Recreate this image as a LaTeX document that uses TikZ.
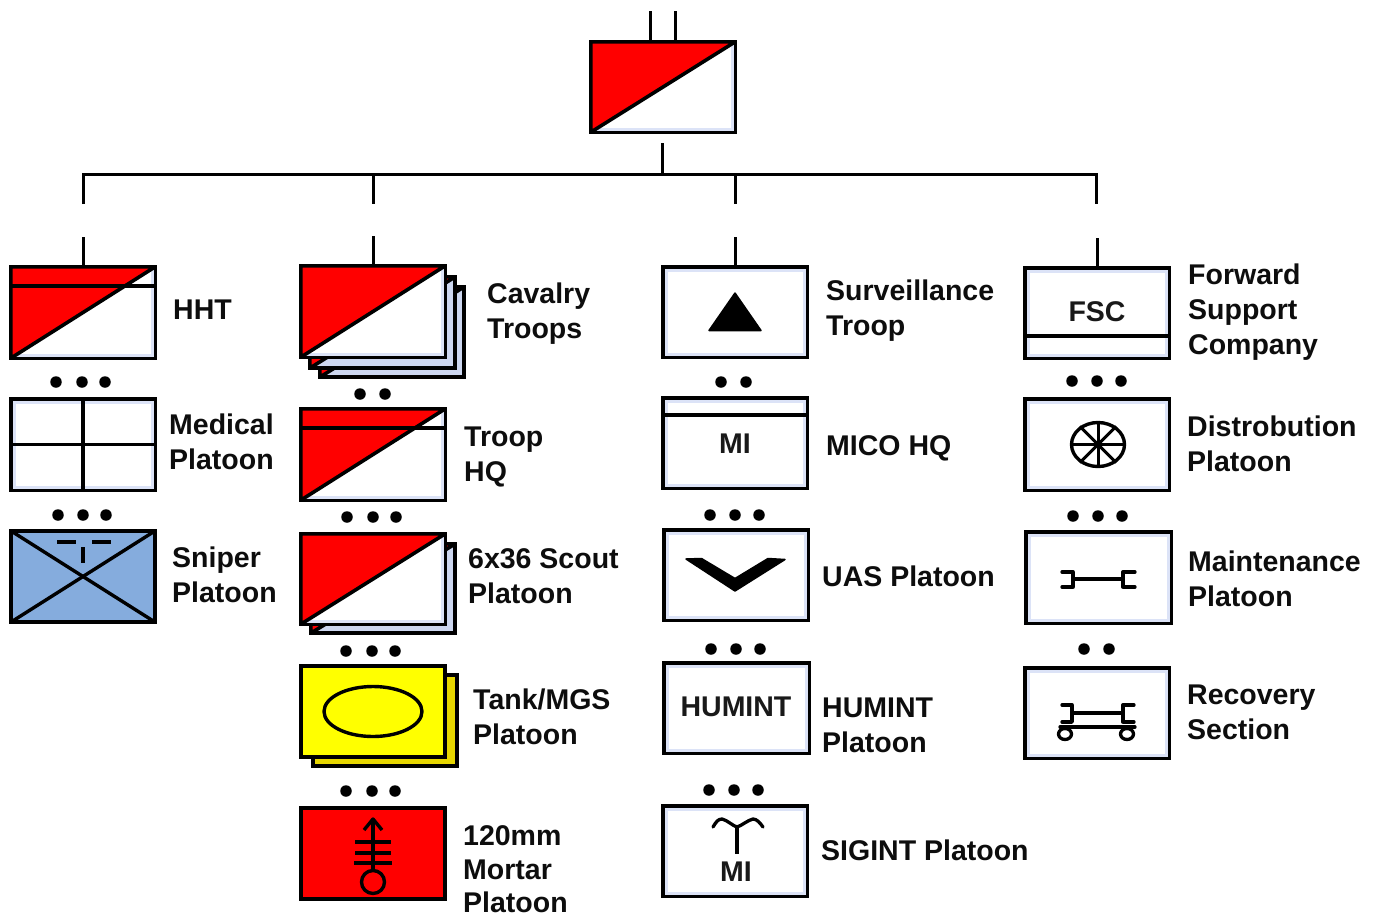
\documentclass[tikz,border=0pt]{standalone}
\usepackage{fontspec}
\usetikzlibrary{shapes.geometric}
\setmainfont{Liberation Sans}
\definecolor{backblue}{HTML}{CDD7F0}
\definecolor{glowblue}{HTML}{DCE3F7}
\definecolor{snblue}{HTML}{85ACDD}
\definecolor{backgold}{HTML}{E6D600}
\definecolor{symred}{HTML}{FF0000}
\definecolor{symyellow}{HTML}{FFFF00}
\tikzset{
  unit/.style={draw=black,line width=3.6pt,inner sep=0pt,outer sep=0pt,line join=miter},
  conn/.style={draw=black,line width=3pt},
  symb/.style={draw=black,line width=3.4pt,line join=round},
  thin symb/.style={draw=black,line width=3.3pt,line cap=round,line join=round},
  glow/.style={draw=glowblue,line width=3pt},
  dot/.style={circle,fill=black,inner sep=0pt,minimum size=11.5pt},
  lbl/.style={font=\bfseries\fontsize{28.5}{35}\selectfont,align=left,anchor=west,inner sep=0pt,text=black!95},
  sym text/.style={font=\bfseries\fontsize{28.5}{30}\selectfont,inner sep=0pt,text=black!90}
}
% name, outer x1,y1,x2,y2, fill
\newcommand{\ubox}[6]{%
  \node[unit,fill=#6,minimum width={(#4-#2-3.6)*1pt},minimum height={(#5-#3-3.6)*1pt}] (#1) at ({(#2+#4)/2},{(#3+#5)/2}) {};}
\newcommand{\gbox}[5]{%
  \ubox{#1}{#2}{#3}{#4}{#5}{white}%
  \draw[glow] ([shift={(3.2,3.2)}]#1.north west) rectangle ([shift={(-3.2,-3.2)}]#1.south east);}
\newcommand{\friend}[1]{%
  \filldraw[fill=symred,symb,line width=3.6pt] (#1.north west) -- (#1.north east) -- (#1.south west) -- cycle;}
\begin{document}
\begin{tikzpicture}[x=1pt,y=-1pt]
\clip (0,0) rectangle (1378,913);
\fill[white] (0,0) rectangle (1378,913);

% --- top unit
\gbox{top}{589}{40}{737}{134}
\friend{top}
\coordinate (ta) at (650.5,11);
\coordinate (tb) at (675.5,11);
\draw[conn] (ta) -- (ta |- top.north);
\draw[conn] (tb) -- (tb |- top.north);

% --- tree
\coordinate (stem) at (662.5,143);
\coordinate (busm) at (662.5,174);
\coordinate (busa) at (83,174);
\coordinate (busb) at (373,174);
\coordinate (busc) at (735,174);
\coordinate (busd) at (1096,174);
\coordinate (da) at (83,204);
\coordinate (db) at (373,204);
\coordinate (dc) at (735,204);
\coordinate (dd) at (1096,204);
\draw[conn] (stem) -- (busm);
\draw[conn] (da) -- (busa) -- (busd) -- (dd);
\draw[conn] (busb) -- (db);
\draw[conn] (busc) -- (dc);

% --- column 1
\gbox{hht}{9}{265}{157}{360}
\friend{hht}
\coordinate (sa) at (83,237);
\draw[conn] (sa) -- (hht.north);
\draw[symb] (11,286) -- (155,286);
\node[lbl] (lhht) at (173,310) {HHT};

\gbox{med}{9}{397}{157}{492}
\draw[symb] (med.north) -- (med.south);
\draw[symb] (med.west) -- (med.east);
\node[lbl] (lmed) at (169,442) {Medical\\Platoon};

\ubox{snp}{9}{529}{157}{624}{snblue}
\draw[symb] (snp.north west) -- (snp.south east);
\draw[symb] (snp.north east) -- (snp.south west);
\draw[symb] (57,542) -- (76,542);
\draw[symb] (92,542) -- (111,542);
\draw[symb] (83,547) -- (83,563);
\node[lbl] (lsnp) at (172,575) {Sniper\\Platoon};

\foreach \n/\x/\y in {a1/56/382,a2/82/382,a3/105/382,a4/58/515,a5/83/515,a6/106/515}
  \node[dot] (\n) at (\x,\y) {};

% --- column 2
\ubox{cav3}{318}{285}{466}{379}{backblue}
\friend{cav3}
\ubox{cav2}{308}{275}{457}{370}{backblue}
\friend{cav2}
\gbox{cav}{299}{264}{447}{359}
\friend{cav}
\coordinate (sb) at (373,236);
\draw[conn] (sb) -- (cav.north);
\node[lbl] (lcav) at (487,314) {Cavalry\\Troops};

\gbox{thq}{299}{407}{447}{502}
\friend{thq}
\draw[symb] (301,428) -- (445,428);
\node[lbl] (lthq) at (464,456.5) {Troop\\HQ};

\ubox{sct2}{309}{542}{457}{635}{backblue}
\friend{sct2}
\gbox{sct}{299}{532}{447}{626}
\friend{sct}
\node[lbl] (lsct) at (468,576) {6x36 Scout\\Platoon};

\ubox{tnk2}{311}{673}{459}{768}{backgold}
\ubox{tnk}{299}{664}{447}{759}{symyellow}
\node[symb,ellipse,minimum width=98pt,minimum height=50pt,inner sep=0pt] (tnkm) at (373,711.5) {};
\node[lbl] (ltnk) at (473,717) {Tank/MGS\\Platoon};

\ubox{mor}{299}{806}{447}{901}{symred}
\node[symb,circle,minimum size=23pt,inner sep=0pt] (morc) at (373,882) {};
\coordinate (mort) at (373,819);
\draw[symb] (mort) -- (morc.north);
\draw[symb] (364,830) -- (mort) -- (382,830);
\draw[symb] (355,842) -- (391,842);
\draw[symb] (355,853) -- (391,853);
\draw[symb] (354,863) -- (392,863);
\node[lbl,font=\bfseries\fontsize{28.5}{33.5}\selectfont] (lmor) at (463,869.5) {120mm\\Mortar\\Platoon};

\foreach \n/\x/\y in {b1/360/394,b2/385/394,b3/347/517,b4/373/517,b5/396/517,b6/346/651,b7/372/651,b8/395/651,b9/346/791,b10/372/791,b11/395/791}
  \node[dot] (\n) at (\x,\y) {};

% --- column 3
\gbox{srv}{661}{265}{809}{359}
\coordinate (sc) at (735,237);
\draw[conn] (sc) -- (srv.north);
\fill[black,line join=round,draw=black,line width=1.5pt] (735,293) -- (761,330.5) -- (709,330.5) -- cycle;
\node[lbl] (lsrv) at (826,311) {Surveillance\\Troop};

\gbox{mic}{661}{396}{809}{490}
\draw[symb] (663,415) -- (807,415);
\node[sym text] (micm) at (735,444) {MI};
\node[lbl] (lmic) at (826,448) {MICO HQ};

\gbox{uas}{662}{528}{810}{622}
\fill[black,line join=round,draw=black,line width=1.5pt] (686,559) -- (701.5,558.5) -- (735,578.5) -- (768,558.5) -- (785,559.5) -- (735,591) -- cycle;
\node[lbl] (luas) at (822,576) {UAS Platoon};

\gbox{hum}{662}{661}{811}{755}
\node[sym text] (humm) at (736,707) {HUMINT};
\node[lbl] (lhum) at (822,725) {HUMINT\\Platoon};

\gbox{sig}{661}{804}{809}{898}
\draw[thin symb] (713,827) .. controls (716,822) and (718,819) .. (722,819) .. controls (727,820) and (733,826) .. (737,827) .. controls (741,826) and (748,820) .. (753,819) .. controls (757,819) and (760,823) .. (763,827);
\draw[symb] (737,827) -- (737,854);
\node[sym text] (sigm) at (736,872) {MI};
\node[lbl] (lsig) at (821,850) {SIGINT Platoon};

\foreach \n/\x/\y in {c1/721/382,c2/746/382,c3/710/515,c4/735/515,c5/759/515,c6/711/649,c7/736/649,c8/760/649,c9/709/790,c10/734/790,c11/758/790}
  \node[dot] (\n) at (\x,\y) {};

% --- column 4
\gbox{fsc}{1023}{266}{1171}{360}
\coordinate (sd) at (1097,238);
\draw[conn] (sd) -- (fsc.north);
\draw[symb] (1025,336) -- (1169,336);
\node[sym text] (fscm) at (1097,312) {FSC};
\node[lbl] (lfsc) at (1188,312) {Forward\\Support\\Company};

\gbox{dis}{1023}{397}{1171}{492}
\node[symb,ellipse,minimum width=53pt,minimum height=44pt,inner sep=0pt] (wheel) at (1098,444.5) {};
\foreach \a/\b in {0/180,45/225,90/270,135/315} {
  \draw[draw=black,line width=3pt] (wheel.\a) -- (wheel.\b);
}
\node[lbl] (ldis) at (1187,443.5) {Distrobution\\Platoon};

\gbox{mnt}{1024}{530}{1173}{625}
\coordinate (wl) at (1073,579);
\coordinate (wr) at (1123,579);
\draw[thin symb] (wl) -- (wr);
\draw[thin symb] (1062,572) -- (1073,572) -- (1073,587) -- (1062,587);
\draw[thin symb] (1135,572) -- (1123,572) -- (1123,587) -- (1135,587);
\node[lbl] (lmnt) at (1188,579) {Maintenance\\Platoon};

\gbox{rec}{1023}{666}{1171}{760}
\coordinate (rl) at (1072,713);
\coordinate (rr) at (1123,713);
\draw[thin symb] (rl) -- (rr);
\draw[thin symb] (1062,705) -- (1072,705) -- (1072,722) -- (1062,722);
\draw[thin symb] (1134,705) -- (1123,705) -- (1123,722) -- (1134,722);
\draw[thin symb] (1060,727) -- (1135,727);
\draw[thin symb] (1065,734) ellipse (6.5 and 5.5);
\draw[thin symb] (1127,734) ellipse (6.5 and 5.5);
\node[lbl] (lrec) at (1187,712) {Recovery\\Section};

\foreach \n/\x/\y in {d1/1072/381,d2/1097/381,d3/1121/381,d4/1073/516,d5/1098/516,d6/1122/516,d7/1084/649,d8/1109/649}
  \node[dot] (\n) at (\x,\y) {};
\end{tikzpicture}
\end{document}
